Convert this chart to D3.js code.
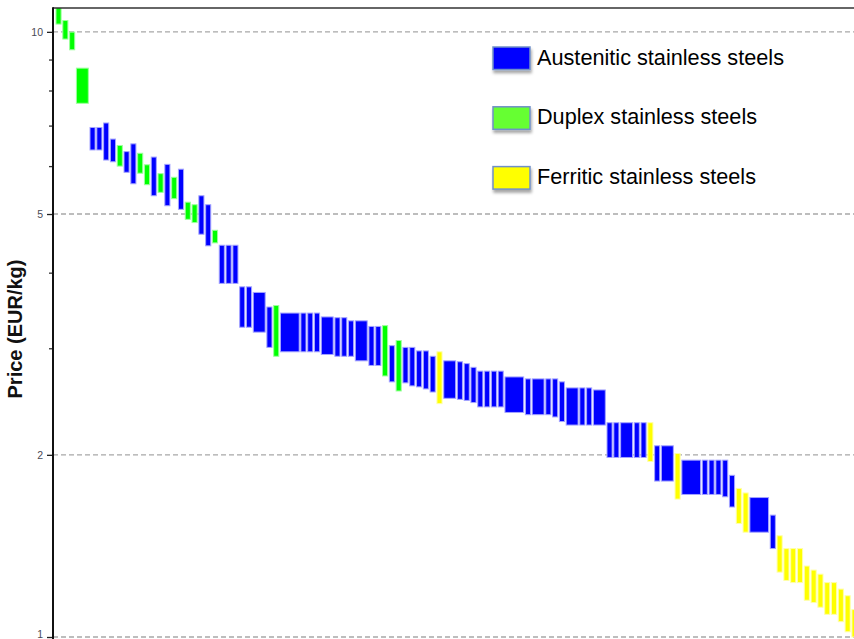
<!DOCTYPE html>
<html>
<head>
<meta charset="utf-8">
<script src="https://cdn.jsdelivr.net/npm/d3@7"></script>
<style>
  html, body { margin: 0; padding: 0; background: #fff; }
  svg { display: block; }
</style>
</head>
<body>
<svg id="chart" width="854" height="639"></svg>
<script>
// Stainless steel grades, sorted by price; each entry is a price range (EUR/kg)
// shared by `gradeCount` neighbouring grades of one family.
const familyNames = ["Austenitic stainless steels", "Duplex stainless steels", "Ferritic stainless steels"];
const familyCodes = ["A", "D", "F"];

const gradeFamily = [
  "D","D","D","D","A","A","A","A","D","A",
  "A","D","D","A","D","A","D","A","D","D",
  "A","A","D","A","A","A","A","A","A","A",
  "D","A","A","A","A","A","A","A","A","A",
  "A","A","D","A","D","A","A","A","A","A",
  "F","A","A","A","A","A","A","A","A","A",
  "A","A","A","A","A","A","A","A","A","A",
  "A","A","A","A","F","A","A","F","A","A",
  "A","A","A","A","F","F","A","A","F","F",
  "F","F","F","F","F","F","F","F","F","F"
];
const priceLow = [
  10.30, 9.73, 9.34, 7.62, 6.38, 6.38, 6.14, 6.10, 6.00, 5.86,
  5.61, 5.84, 5.59, 5.36, 5.43, 5.16, 5.30, 5.09, 4.90, 4.84,
  4.63, 4.43, 4.48, 3.84, 3.84, 3.84, 3.25, 3.25, 3.19, 3.01,
  2.91, 2.96, 2.96, 2.96, 2.96, 2.93, 2.91, 2.91, 2.91, 2.86,
  2.81, 2.81, 2.70, 2.64, 2.55, 2.63, 2.60, 2.59, 2.57, 2.54,
  2.43, 2.48, 2.47, 2.46, 2.44, 2.40, 2.40, 2.40, 2.40, 2.35,
  2.33, 2.33, 2.33, 2.31, 2.27, 2.24, 2.24, 2.24, 2.24, 1.98,
  1.98, 1.98, 1.98, 1.98, 1.95, 1.81, 1.81, 1.69, 1.72, 1.72,
  1.72, 1.72, 1.705, 1.64, 1.54, 1.49, 1.49, 1.40, 1.28, 1.24,
  1.23, 1.23, 1.15, 1.14, 1.12, 1.09, 1.09, 1.06, 1.02, 1.00
];
const priceHigh = [
  11.30, 10.44, 9.99, 8.71, 6.95, 6.95, 7.07, 6.65, 6.49, 6.34,
  6.53, 6.30, 6.03, 6.21, 5.83, 6.04, 5.75, 5.93, 5.23, 5.18,
  5.36, 5.18, 4.70, 4.44, 4.44, 4.44, 3.79, 3.79, 3.71, 3.51,
  3.53, 3.43, 3.43, 3.43, 3.43, 3.38, 3.37, 3.37, 3.33, 3.33,
  3.26, 3.26, 3.27, 3.03, 3.09, 3.01, 3.01, 2.97, 2.97, 2.91,
  2.96, 2.86, 2.85, 2.83, 2.79, 2.75, 2.75, 2.75, 2.75, 2.69,
  2.67, 2.67, 2.67, 2.67, 2.64, 2.58, 2.58, 2.58, 2.56, 2.26,
  2.26, 2.26, 2.26, 2.26, 2.26, 2.07, 2.07, 2.01, 1.96, 1.96,
  1.96, 1.96, 1.96, 1.85, 1.76, 1.73, 1.70, 1.59, 1.47, 1.40,
  1.40, 1.40, 1.31, 1.29, 1.27, 1.23, 1.23, 1.20, 1.17, 1.11
];
const gradeCount = [
  1, 1, 1, 2, 1, 1, 1, 1, 1, 1,
  1, 1, 1, 1, 1, 1, 1, 1, 1, 1,
  1, 1, 1, 1, 1, 1, 1, 1, 2, 1,
  1, 3, 1, 1, 1, 2, 1, 1, 1, 2,
  1, 1, 1, 1, 1, 1, 1, 1, 1, 1,
  1, 2, 1, 1, 1, 1, 1, 1, 1, 3,
  1, 2, 1, 1, 1, 2, 1, 1, 2, 1,
  1, 2, 1, 1, 1, 1, 2, 1, 3, 1,
  1, 1, 1, 1, 1, 1, 3, 1, 1, 1,
  1, 1, 1, 1, 1, 1, 1, 1, 1, 1
];

const majorTicks = [1, 2, 5, 10];
const minorTicks = [3, 4, 6, 7, 8, 9];

const fillColor = { A: "#0000ff", D: "#00ff00", F: "#ffff00" };
const edgeColor = { A: "#a4a4ff", D: "#9cff9c", F: "#ffffa8" };
const legendFill = { A: "#0000ff", D: "#66ff33", F: "#ffff00" };

// Slot layout: each grade occupies consecutive slots along the x axis
const startSlot = [];
let acc = 0;
gradeCount.forEach(c => { startSlot.push(acc); acc += c; });
const totalSlots = acc;

const bars = priceLow.map((lo, i) => ({
  fam: gradeFamily[i], lo, hi: priceHigh[i], start: startSlot[i], n: gradeCount[i]
}));

const svg = d3.select("#chart");
const plot = { left: 53, top: 8, bottom: 637, right: 860 };

const x = d3.scaleBand()
  .domain(d3.range(totalSlots))
  .range([plot.left, plot.right])
  .paddingInner(0.25)
  .paddingOuter(0.44);

const y = d3.scaleLog()
  .domain([1, 10.95])
  .range([plot.bottom, plot.top]);

const defs = svg.append("defs");
defs.append("clipPath").attr("id", "plotClip")
  .append("rect")
  .attr("x", plot.left).attr("y", plot.top)
  .attr("width", plot.right - plot.left).attr("height", plot.bottom - plot.top + 2);

const shadow = defs.append("filter").attr("id", "swatchShadow")
  .attr("x", "-20%").attr("y", "-20%").attr("width", "150%").attr("height", "170%");
shadow.append("feDropShadow")
  .attr("dx", 1).attr("dy", 3).attr("stdDeviation", 1.6)
  .attr("flood-color", "#000").attr("flood-opacity", 0.35);

// Dashed gridlines at labelled prices
svg.append("g")
  .selectAll("line")
  .data(majorTicks)
  .join("line")
  .attr("x1", plot.left).attr("x2", 854)
  .attr("y1", d => y(d)).attr("y2", d => y(d))
  .attr("stroke", "#a8a8a8")
  .attr("stroke-width", 1.3)
  .attr("stroke-dasharray", "5,3");

// Price range bars
svg.append("g")
  .attr("clip-path", "url(#plotClip)")
  .selectAll("rect")
  .data(bars)
  .join("rect")
  .attr("x", d => x(d.start))
  .attr("width", d => x(d.start + d.n - 1) + x.bandwidth() - x(d.start))
  .attr("y", d => y(d.hi))
  .attr("height", d => y(d.lo) - y(d.hi))
  .attr("fill", d => fillColor[d.fam])
  .attr("stroke", d => edgeColor[d.fam])
  .attr("stroke-width", 1);

// Top frame line
svg.append("line")
  .attr("x1", plot.left).attr("x2", 854)
  .attr("y1", plot.top).attr("y2", plot.top)
  .attr("stroke", "#333").attr("stroke-width", 1.6);

// Y axis with labelled major ticks
const yAxis = d3.axisLeft(y)
  .tickValues(majorTicks)
  .tickFormat(d3.format("d"))
  .tickSize(6)
  .tickPadding(4);
const gy = svg.append("g")
  .attr("transform", `translate(${plot.left},0)`)
  .call(yAxis);
gy.select(".domain").remove();
gy.selectAll(".tick line").attr("stroke", "#222").attr("stroke-width", 1.3);
gy.selectAll(".tick text")
  .attr("fill", "#4a4a55")
  .style("font-family", "'Liberation Sans', Arial, sans-serif")
  .style("font-size", "10.5px");
// keep the lowest label inside the page edge
gy.selectAll(".tick text").filter(d => d === 1).attr("dy", "0.05em");

// Minor ticks
const yMinor = d3.axisLeft(y).tickValues(minorTicks).tickFormat("").tickSize(4);
const gm = svg.append("g")
  .attr("transform", `translate(${plot.left},0)`)
  .call(yMinor);
gm.select(".domain").remove();
gm.selectAll(".tick line").attr("stroke", "#333").attr("stroke-width", 1.3);

// Axis line
svg.append("line")
  .attr("x1", plot.left).attr("x2", plot.left)
  .attr("y1", plot.top - 0.8).attr("y2", 639)
  .attr("stroke", "#111").attr("stroke-width", 2);

// Axis title
svg.append("text")
  .attr("transform", "translate(22,329) rotate(-90)")
  .attr("text-anchor", "middle")
  .style("font-family", "'Liberation Sans', Arial, sans-serif")
  .style("font-weight", "bold")
  .style("font-size", "20px")
  .attr("fill", "#111")
  .text("Price (EUR/kg)");

// Legend
const legend = svg.append("g").attr("transform", "translate(493,47)");
const rows = legend.selectAll("g")
  .data(familyCodes)
  .join("g")
  .attr("transform", (d, i) => `translate(0,${i * 59.8})`);
rows.append("rect")
  .attr("width", 37).attr("height", 22.5)
  .attr("fill", d => legendFill[d])
  .attr("stroke", "#7090c8")
  .attr("stroke-width", 1.5)
  .attr("filter", "url(#swatchShadow)");
rows.append("text")
  .attr("x", 44).attr("y", 17.5)
  .style("font-family", "'Liberation Sans', Arial, sans-serif")
  .style("font-size", "22.5px")
  .attr("fill", "#000")
  .attr("textLength", (d, i) => [247, 220, 219][i])
  .attr("lengthAdjust", "spacingAndGlyphs")
  .text((d, i) => familyNames[i]);
</script>
</body>
</html>
